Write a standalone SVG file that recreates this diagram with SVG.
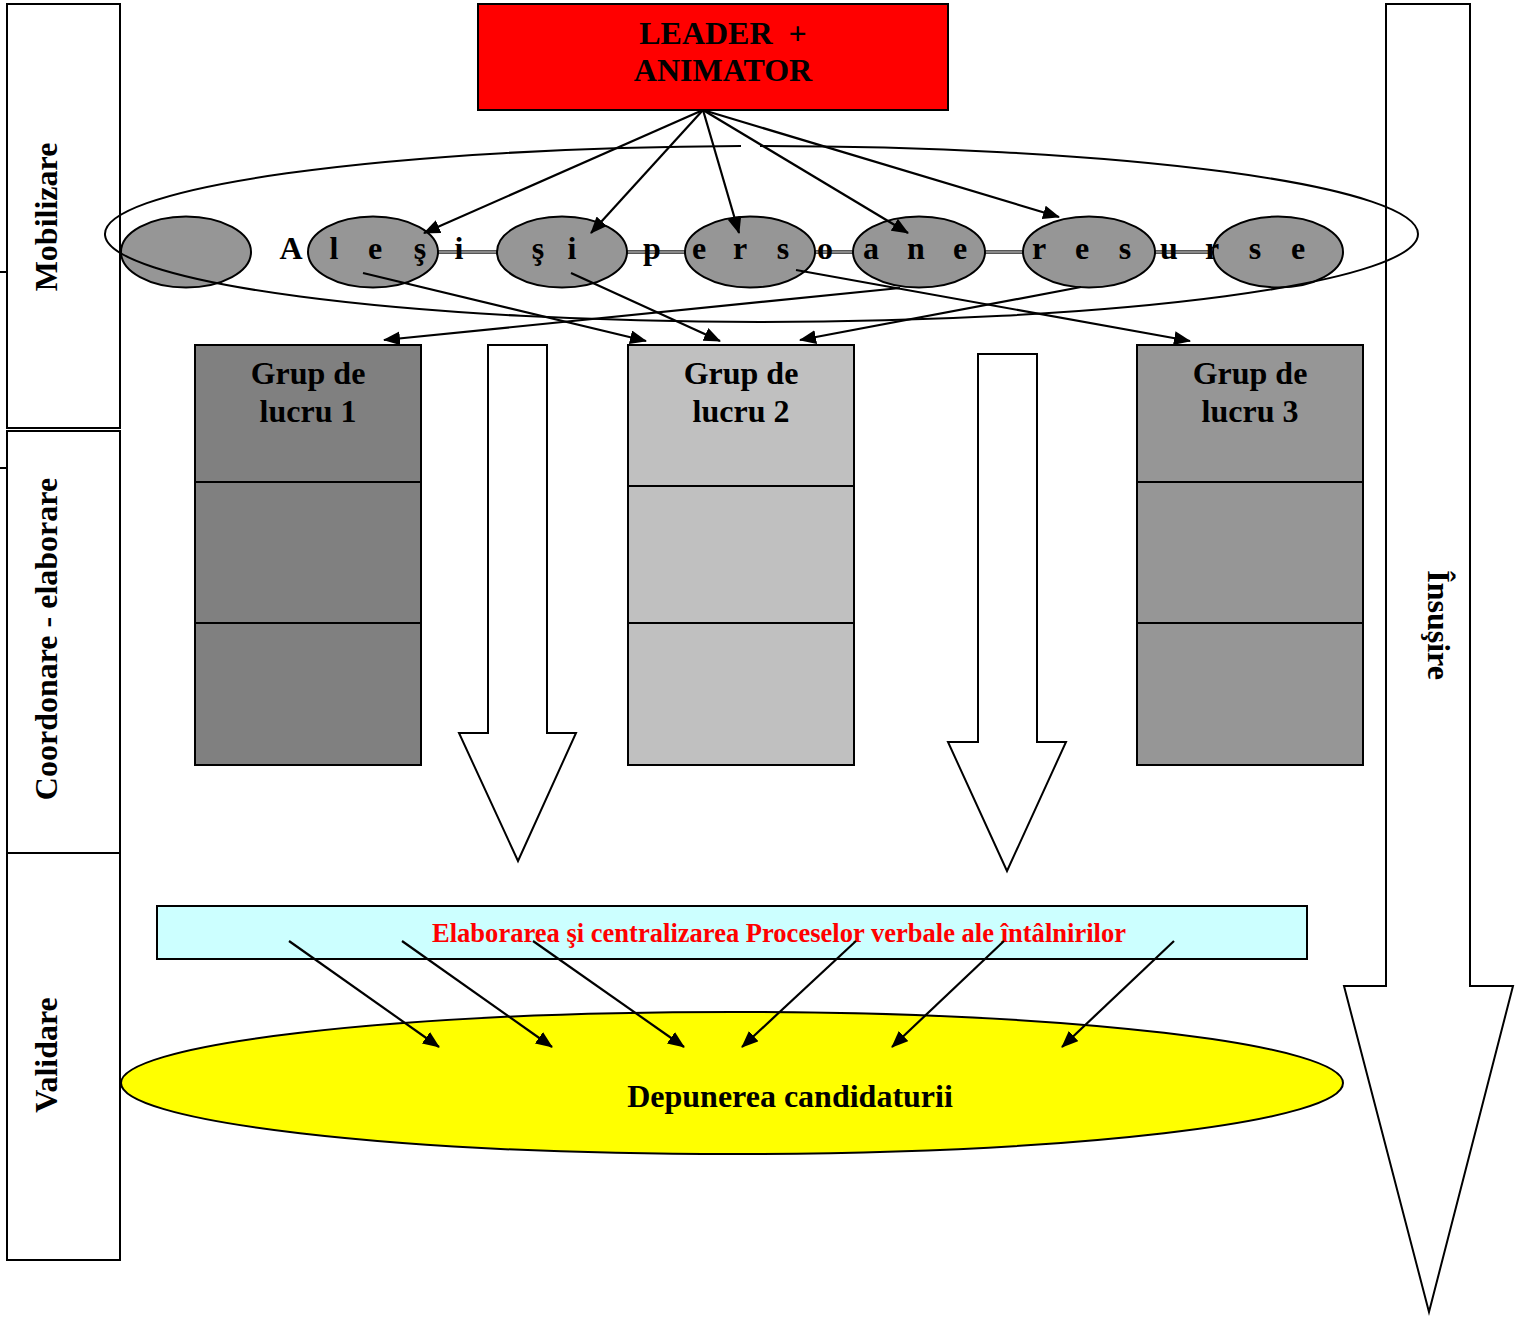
<svg xmlns="http://www.w3.org/2000/svg" width="1516" height="1321" viewBox="0 0 1516 1321">
<defs>
<style>
.t{font-family:"Liberation Serif","Times New Roman",serif;font-weight:bold;fill:#000}
.bx{stroke:#000;stroke-width:2}
.ln{stroke:#000;stroke-width:2;fill:none}
.c{stroke:#000;stroke-width:2.2;fill:none;marker-end:url(#ah)}
.sm{fill:#969696;stroke:#000;stroke-width:2}
</style>
<marker id="ah" markerUnits="userSpaceOnUse" markerWidth="18" markerHeight="14" refX="16" refY="7" orient="auto">
<path d="M0,0 L17,7 L0,14 Z" fill="#000"/>
</marker>
</defs>
<rect width="1516" height="1321" fill="#fff"/>

<g id="phases">
<rect class="bx" x="7" y="4" width="113" height="424" fill="#fff"/>
<rect class="bx" x="7" y="431" width="113" height="422" fill="#fff"/>
<rect class="bx" x="7" y="853" width="113" height="407" fill="#fff"/>
<line class="ln" x1="0" y1="272" x2="7" y2="272"/>
<line class="ln" x1="0" y1="468" x2="7" y2="468"/>
<text class="t" font-size="32" text-anchor="middle" transform="translate(57,217) rotate(-90)">Mobilizare</text>
<text class="t" font-size="32" text-anchor="middle" transform="translate(57,639) rotate(-90)">Coordonare - elaborare</text>
<text class="t" font-size="32" text-anchor="middle" transform="translate(57,1055) rotate(-90)">Validare</text>
</g>

<g id="insusire">
<polygon class="bx" fill="#fff" points="1386,4 1470,4 1470,986 1513,986 1429,1312 1344,986 1386,986"/>
<text class="t" font-size="32" text-anchor="middle" transform="translate(1428,625) rotate(90)">Însuşire</text>
</g>

<g id="leader">
<rect class="bx" x="478" y="4" width="470" height="106" fill="#ff0000"/>
<text class="t" font-size="32" text-anchor="middle" x="723" y="44">LEADER &#160;+</text>
<text class="t" font-size="32" text-anchor="middle" x="723" y="81">ANIMATOR</text>
</g>

<g id="alegere">
<line x1="438" y1="252" x2="1211" y2="252" stroke="#555" stroke-width="4"/>
<line x1="438" y1="252" x2="1211" y2="252" stroke="#bbb" stroke-width="1"/>
<ellipse class="sm" cx="186" cy="252" rx="65" ry="35.5"/>
<ellipse class="sm" cx="373" cy="252" rx="65" ry="35.5"/>
<ellipse class="sm" cx="562" cy="252" rx="65" ry="35.5"/>
<ellipse class="sm" cx="750" cy="252" rx="65" ry="35.5"/>
<ellipse class="sm" cx="919" cy="252" rx="66" ry="35.5"/>
<ellipse class="sm" cx="1089" cy="252" rx="66" ry="35.5"/>
<ellipse class="sm" cx="1278" cy="252" rx="65" ry="35.5"/>
<g class="t" font-size="32" text-anchor="middle">
<text x="291" y="259">A</text>
<text x="334" y="259">l</text>
<text x="375" y="259">e</text>
<text x="420" y="259">ş</text>
<text x="459" y="259">i</text>
<text x="538" y="259">ş</text>
<text x="572" y="259">i</text>
<text x="652" y="259">p</text>
<text x="699" y="259">e</text>
<text x="740" y="259">r</text>
<text x="783" y="259">s</text>
<text x="825" y="259">o</text>
<text x="871" y="259">a</text>
<text x="916" y="259">n</text>
<text x="960" y="259">e</text>
<text x="1039" y="259">r</text>
<text x="1082" y="259">e</text>
<text x="1125" y="259">s</text>
<text x="1169" y="259">u</text>
<text x="1212" y="259">r</text>
<text x="1255" y="259">s</text>
<text x="1298" y="259">e</text>
</g>
<path class="ln" d="M760,146 A658,88 0 0 1 760,322 A658,88 0 0 1 741,146.05"/>
</g>

<g id="grup1">
<rect class="bx" x="195" y="345" width="226" height="420" fill="#808080"/>
<line class="ln" x1="195" y1="482" x2="421" y2="482"/>
<line class="ln" x1="195" y1="623" x2="421" y2="623"/>
<text class="t" font-size="32" text-anchor="middle" x="308" y="384">Grup de</text>
<text class="t" font-size="32" text-anchor="middle" x="308" y="422">lucru 1</text>
</g>
<g id="grup2">
<rect class="bx" x="628" y="345" width="226" height="420" fill="#c0c0c0"/>
<line class="ln" x1="628" y1="486" x2="854" y2="486"/>
<line class="ln" x1="628" y1="623" x2="854" y2="623"/>
<text class="t" font-size="32" text-anchor="middle" x="741" y="384">Grup de</text>
<text class="t" font-size="32" text-anchor="middle" x="741" y="422">lucru 2</text>
</g>
<g id="grup3">
<rect class="bx" x="1137" y="345" width="226" height="420" fill="#969696"/>
<line class="ln" x1="1137" y1="482" x2="1363" y2="482"/>
<line class="ln" x1="1137" y1="623" x2="1363" y2="623"/>
<text class="t" font-size="32" text-anchor="middle" x="1250" y="384">Grup de</text>
<text class="t" font-size="32" text-anchor="middle" x="1250" y="422">lucru 3</text>
</g>

<g id="flow1">
<polygon class="bx" fill="#fff" points="488,345 547,345 547,733 576,733 518,861 459,733 488,733"/>
</g>
<g id="flow2">
<polygon class="bx" fill="#fff" points="978,354 1037,354 1037,742 1066,742 1007,871 948,742 978,742"/>
</g>

<g id="procese">
<rect class="bx" x="157" y="906" width="1150" height="53" fill="#ccffff"/>
<text class="t" font-size="28" x="432" y="942" style="fill:#ff0000" textLength="694" lengthAdjust="spacingAndGlyphs">Elaborarea şi centralizarea Proceselor verbale ale întâlnirilor</text>
</g>

<g id="depunere">
<ellipse class="bx" cx="732" cy="1083" rx="611" ry="71" fill="#ffff00"/>
<text class="t" font-size="32" text-anchor="middle" x="790" y="1107">Depunerea candidaturii</text>
</g>

<g id="connectors">
<line class="c" x1="703" y1="110" x2="424" y2="233"/>
<line class="c" x1="703" y1="110" x2="591" y2="233"/>
<line class="c" x1="703" y1="110" x2="739" y2="233"/>
<line class="c" x1="703" y1="110" x2="908" y2="233"/>
<line class="c" x1="703" y1="110" x2="1059" y2="217"/>
<line class="c" x1="363" y1="273" x2="646" y2="341"/>
<line class="c" x1="571" y1="273" x2="720" y2="341"/>
<line class="c" x1="796" y1="270" x2="1190" y2="341"/>
<line class="c" x1="900" y1="288" x2="384" y2="340"/>
<line class="c" x1="1081" y1="287" x2="800" y2="340"/>
<line class="c" x1="289" y1="941" x2="439" y2="1047"/>
<line class="c" x1="402" y1="941" x2="552" y2="1047"/>
<line class="c" x1="533" y1="941" x2="684" y2="1047"/>
<line class="c" x1="856" y1="941" x2="742" y2="1047"/>
<line class="c" x1="1004" y1="941" x2="892" y2="1047"/>
<line class="c" x1="1174" y1="941" x2="1062" y2="1047"/>
</g>
</svg>
